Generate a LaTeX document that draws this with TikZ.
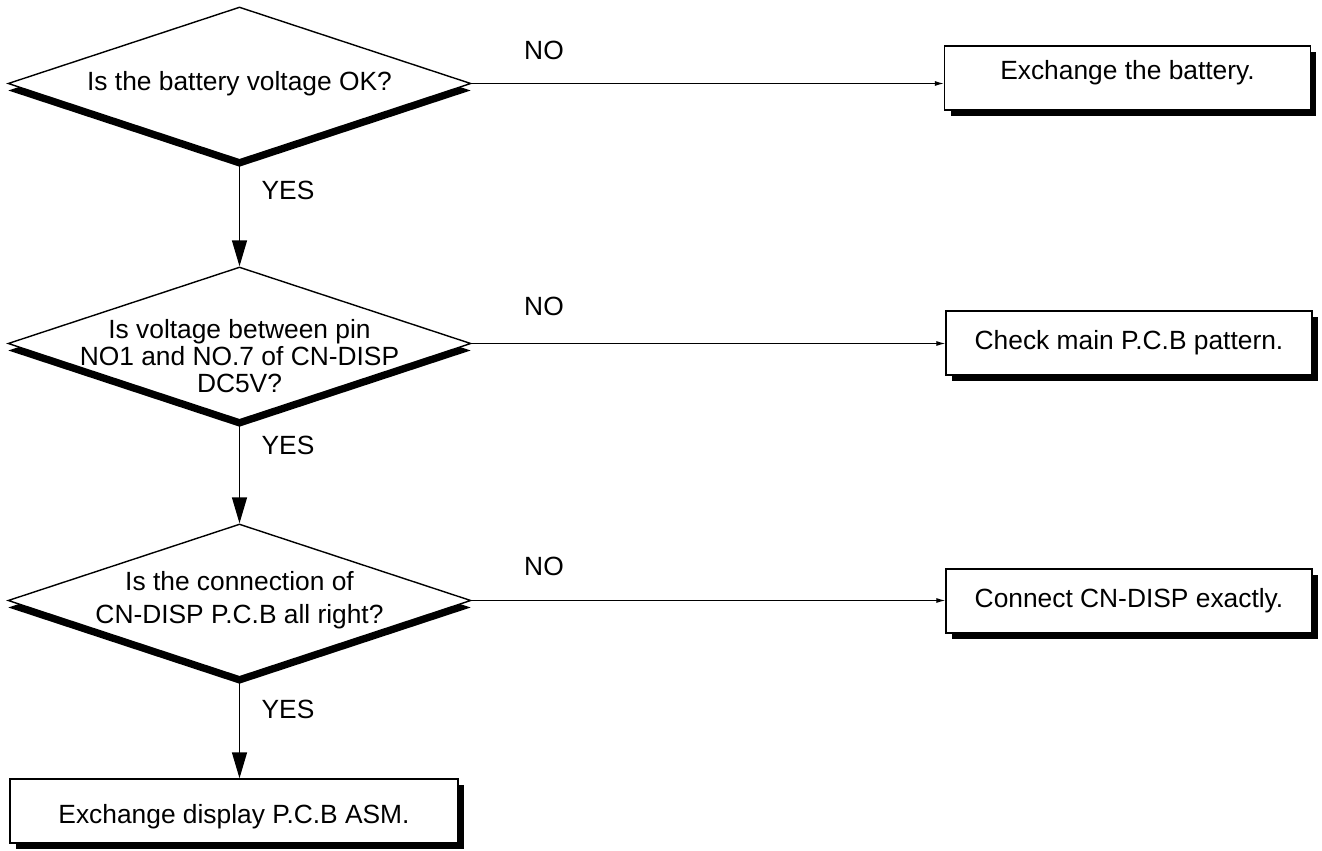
\documentclass[tikz,border=0pt]{standalone}
\usepackage{fontspec}
\setmainfont{Liberation Sans}
\usetikzlibrary{arrows.meta,shapes.geometric,shadows}

\tikzset{
  ask/.style={diamond, draw, line width=0.8pt, fill=white, aspect=3, inner ysep=0pt, inner xsep=-1.2cm,
    minimum width=9.26cm, minimum height=3.06cm, align=center,
    drop shadow={shadow xshift=0cm, shadow yshift=-0.14cm, fill=black, opacity=1}},
  todo/.style={rectangle, draw, line width=0.8pt, fill=white, align=center,
    minimum width=7.32cm, minimum height=1.28cm,
    drop shadow={shadow xshift=0.12cm, shadow yshift=-0.12cm, fill=black, opacity=1}},
  yesline/.style={-{Triangle[length=0.52cm,width=0.3cm]}, line width=0.8pt},
  noline/.style={-{Latex[length=0.18cm,width=0.1cm]}, line width=0.6pt}
}

\begin{document}
\begin{tikzpicture}[x=0.02cm,y=-0.02cm,font=\fontsize{15}{15.2}\selectfont]
		\useasboundingbox (0,0) rectangle (1322,851);

		%kysymykset
		\node[ask] (battery) at (239.5,83.5) {Is the battery voltage OK?};
		\node[ask] (pin) at (239.5,343.5) {\raisebox{-0.25cm}[\height][\depth]{Is voltage between pin}\\
			\raisebox{-0.25cm}[\height][\depth]{NO1 and NO.7 of CN-DISP}\\
			\raisebox{-0.25cm}[\height][\depth]{DC5V?}};
		\node[ask] (conn) at (239.5,600.5) {Is the connection of\\[0.13cm]CN-DISP P.C.B all right?};

		%toimenpiteet
		\node[todo, text depth=0.31cm] (swap) at (1127.5,78) {Exchange the battery.};
		\node[todo] (pattern) at (1129,343) {Check main P.C.B pattern.};
		\node[todo] (plug) at (1129,601) {Connect CN-DISP exactly.};
		\node[todo, minimum width=8.96cm, text height=0.62cm] (asm) at (234,811) {Exchange display P.C.B ASM.};

		%YES-nuolet
		\draw[yesline] (battery.south) -- (pin.north);
		\draw[yesline] (pin.south) -- (conn.north);
		\draw[yesline] (conn.south) -- (conn.south |- asm.north);

		%NO-nuolet
		\draw[noline] (battery.east) -- (battery.east -| swap.west);
		\draw[noline] (pin.east) -- (pin.east -| pattern.west);
		\draw[noline] (conn.east) -- (conn.east -| plug.west);

		%tekstit
		\node (yes1) at (288,190) {YES};
		\node (yes2) at (288,445) {YES};
		\node (yes3) at (288,709) {YES};
		\node (no1) at (544,50) {NO};
		\node (no2) at (544,306) {NO};
		\node (no3) at (544,566) {NO};

\end{tikzpicture}
\end{document}
